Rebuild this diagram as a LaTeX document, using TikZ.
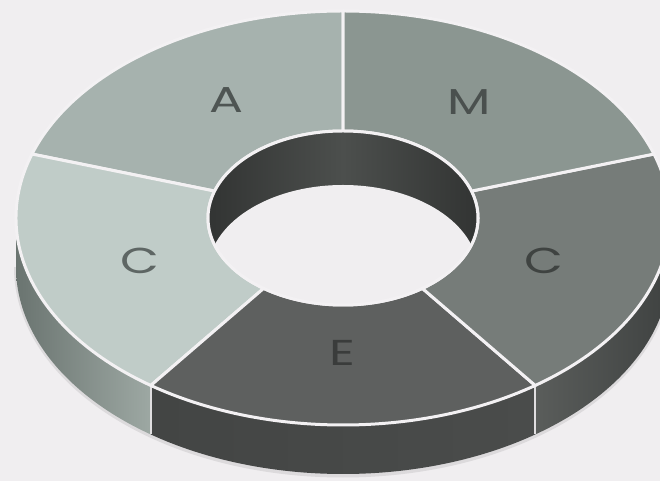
\documentclass[tikz,border=0pt]{standalone}
\usepackage{fontspec}
\usepackage{graphicx}
\newfontfamily\labfont{Poppins}
\definecolor{bg}{HTML}{F0EEF0}
\definecolor{sepline}{HTML}{F3F1F3}
\definecolor{shadowc}{HTML}{DCDADC}
\definecolor{segA}{HTML}{A6B2AE}
\definecolor{segM}{HTML}{8B9691}
\definecolor{segCl}{HTML}{C0CCC8}
\definecolor{segCr}{HTML}{767C79}
\definecolor{segE}{HTML}{5E605F}
\definecolor{holeD}{HTML}{323433}
\definecolor{holeL}{HTML}{4C4F4D}
\definecolor{sideClA}{HTML}{6A7470}
\definecolor{sideClB}{HTML}{9DA8A3}
\definecolor{sideEA}{HTML}{434544}
\definecolor{sideEB}{HTML}{4A4C4B}
\definecolor{sideCrA}{HTML}{5A5D5B}
\definecolor{sideCrB}{HTML}{3F4241}
\definecolor{txA}{HTML}{4E5553}
\definecolor{txM}{HTML}{4A504E}
\definecolor{txCl}{HTML}{5E6664}
\definecolor{txCr}{HTML}{3F4341}
\definecolor{txE}{HTML}{3A3C3B}
\def\CX{343}\def\CY{263}\def\RX{327}\def\RY{207}\def\IRX{135}\def\IRY{87}\def\OD{49}\def\ID{54}
\newcommand{\donutsector}[3]{%
  \filldraw[seg,fill=#3] ({\CX+\RX*cos(#1)},{\CY+\RY*sin(#1)})
    arc[start angle=#1,end angle=#2,x radius=\RX pt,y radius=\RY pt]
    -- ({\CX+\IRX*cos(#2)},{\CY+\IRY*sin(#2)})
    arc[start angle=#2,end angle=#1,x radius=\IRX pt,y radius=\IRY pt] -- cycle;}
\newcommand{\sidewall}[4]{%
  \shade[left color=#3,right color=#4] ({\CX+\RX*cos(#1)},{\CY+\RY*sin(#1)})
    arc[start angle=#1,end angle=#2,x radius=\RX pt,y radius=\RY pt]
    -- ++(0,-\OD)
    arc[start angle=#2,end angle=#1,x radius=\RX pt,y radius=\RY pt] -- cycle;}
\newcommand{\widelet}[1]{\scalebox{1.4}[1]{#1}}
\tikzset{
  seg/.style={draw=sepline,line width=3pt,line join=round},
  lab/.style={font=\labfont\fontsize{36}{36}\selectfont,inner sep=0pt,anchor=center},
  edgeline/.style={draw=sepline!92!black,line width=2pt},
}
\begin{document}
\begin{tikzpicture}[x=1pt,y=1pt]
\fill[bg] (0,0) rectangle (660,481);
\useasboundingbox (0,0) rectangle (660,481);
% shadow under the outer wall
\draw[shadowc,line width=4pt] ({\CX-\RX},{\CY-\OD}) arc[start angle=180,end angle=360,x radius=\RX pt,y radius=\RY pt+1.5pt];
% outer side walls
\sidewall{180}{234}{sideClA}{sideClB}
\sidewall{234}{306}{sideEA}{sideEB}
\sidewall{306}{360}{sideCrA}{sideCrB}
% vertical edges between side walls
\coordinate (e1t) at ({\CX+\RX*cos(234)},{\CY+\RY*sin(234)});
\coordinate (e1b) at ({\CX+\RX*cos(234)},{\CY+\RY*sin(234)-\OD});
\coordinate (e2t) at ({\CX+\RX*cos(306)},{\CY+\RY*sin(306)});
\coordinate (e2b) at ({\CX+\RX*cos(306)},{\CY+\RY*sin(306)-\OD});
\draw[edgeline] (e1t) -- (e1b);
\draw[edgeline] (e2t) -- (e2b);
% top surface sectors
\donutsector{90}{162}{segA}
\donutsector{162}{234}{segCl}
\donutsector{234}{306}{segE}
\donutsector{306}{378}{segCr}
\donutsector{18}{90}{segM}
% hole
\begin{scope}
  \clip (\CX,\CY) ellipse[x radius=\IRX pt,y radius=\IRY pt];
  \shade[left color=holeD,right color=holeD,middle color=holeL]
    ({\CX-\IRX},{\CY-\IRY}) rectangle ({\CX+\IRX},{\CY+\IRY});
  \fill[bg] (\CX,{\CY-\ID}) ellipse[x radius=\IRX pt,y radius=\IRY pt];
\end{scope}
\draw[sepline,line width=3pt] (\CX,\CY) ellipse[x radius=\IRX pt,y radius=\IRY pt];
% labels
\node[lab,text=txA] (la) at (226,381) {\widelet{A}};
\node[lab,text=txM] (lm) at (469,379) {\widelet{M}};
\node[lab,text=txCl] (lcl) at (140,220) {\widelet{C}};
\node[lab,text=txCr] (lcr) at (544,220) {\widelet{C}};
\node[lab,text=txE] (le) at (342,128) {\widelet{E}};
\end{tikzpicture}
\end{document}
